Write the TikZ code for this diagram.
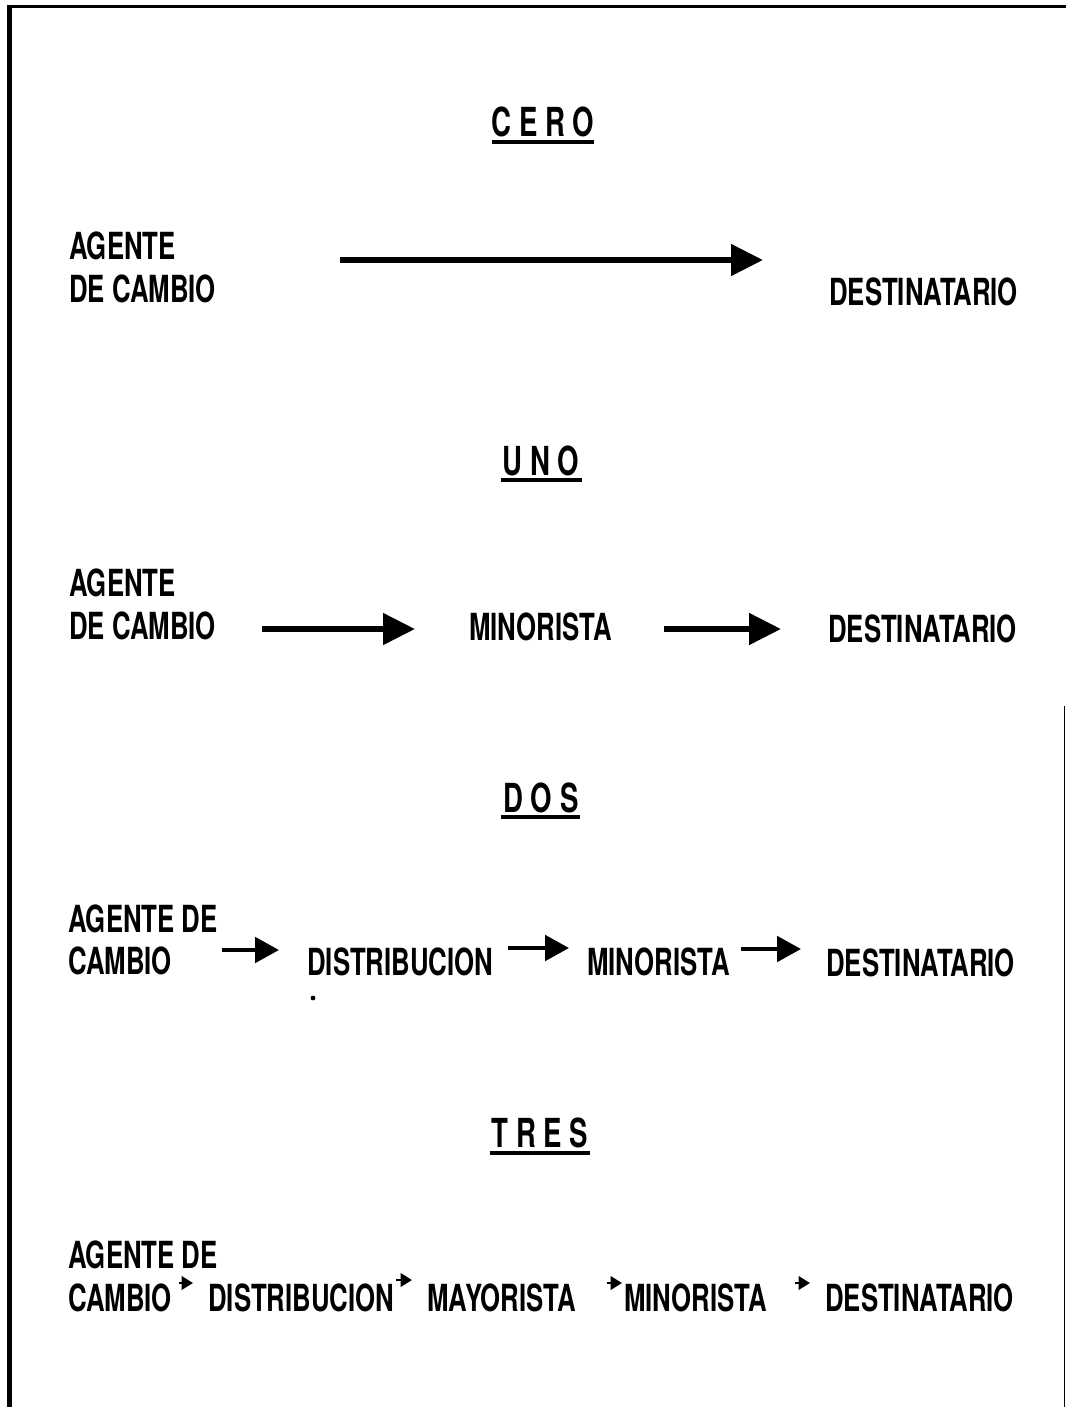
\documentclass[tikz,border=0pt]{standalone}
\usepackage{fontspec}
\setmainfont{TeX Gyre Heros}[FakeStretch=0.69]
\usetikzlibrary{arrows.meta}
\tikzset{
  lbl/.style={anchor=base west, inner sep=0pt, font=\fontsize{28}{32}\selectfont\bfseries},
  ttl/.style={anchor=base, inner sep=0pt, font=\fontsize{30}{34}\selectfont\bfseries},
  uline/.style={line width=2.4pt},
  bigarrow/.style={line width=4.4pt, -{Triangle[length=24pt,width=23pt]}},
  smallarrow/.style={line width=3.2pt, -{Triangle[length=18pt,width=19pt]}},
  tinyarrow/.style={line width=1.9pt, -{Triangle[length=8.5pt,width=10pt]}},
  frame/.style={line cap=butt}
}
\begin{document}
\begin{tikzpicture}[x=0.75pt,y=-0.75pt]
\useasboundingbox (0,0) rectangle (1066,1407);
\fill[white] (0,0) rectangle (1066,1407);
% frame
\draw[frame, line width=2.4pt] (7,6.5) -- (1066,6.5);
\draw[frame, line width=3.2pt] (9.5,5) -- (9.5,1407);
\draw[frame, line width=1.1pt] (1064.5,706) -- (1064.5,1407);

% CERO
\node[ttl] (t0) at (543,136) {C E R O};
\coordinate (u0a) at (492,142); \coordinate (u0b) at (594,142);
\draw[uline] (u0a) -- (u0b);
\node[lbl] (a0a) at (69,259) {AGENTE};
\node[lbl] (a0b) at (69,302) {DE CAMBIO};
\node[lbl] (d0) at (829,305) {DESTINATARIO};
\coordinate (r0s) at (340,260); \coordinate (r0e) at (763,260);
\draw[bigarrow] (r0s) -- (r0e);

% UNO
\node[ttl] (t1) at (541,475) {U N O};
\coordinate (u1a) at (501,480); \coordinate (u1b) at (582,480);
\draw[uline] (u1a) -- (u1b);
\node[lbl] (a1a) at (69,596) {AGENTE};
\node[lbl] (a1b) at (69,639) {DE CAMBIO};
\node[lbl] (m1) at (469,640) {MINORISTA};
\node[lbl] (d1) at (828,642) {DESTINATARIO};
\coordinate (r1s) at (262,629); \coordinate (r1e) at (415,629);
\coordinate (r2s) at (664,629); \coordinate (r2e) at (781,629);
\draw[bigarrow] (r1s) -- (r1e);
\draw[bigarrow] (r2s) -- (r2e);

% DOS
\node[ttl] (t2) at (541,812) {D O S};
\coordinate (u2a) at (501,817); \coordinate (u2b) at (580,817);
\draw[uline] (u2a) -- (u2b);
\node[lbl] (a2a) at (68,932) {AGENTE DE};
\node[lbl] (a2b) at (68,974) {CAMBIO};
\node[lbl] (s2) at (307,975) {DISTRIBUCION};
\node[lbl] (m2) at (587,975) {MINORISTA};
\node[lbl] (d2) at (826,976) {DESTINATARIO};
\coordinate (q1s) at (222,950); \coordinate (q1e) at (279,950);
\coordinate (q2s) at (508,948); \coordinate (q2e) at (569,948);
\coordinate (q3s) at (741,949); \coordinate (q3e) at (801,949);
\draw[smallarrow] (q1s) -- (q1e);
\draw[smallarrow] (q2s) -- (q2e);
\draw[smallarrow] (q3s) -- (q3e);
\coordinate (dot) at (313,998);
\fill (dot) circle (1.8pt);

% TRES
\node[ttl] (t3) at (540,1147) {T R E S};
\coordinate (u3a) at (490,1153); \coordinate (u3b) at (590,1153);
\draw[uline] (u3a) -- (u3b);
\node[lbl] (a3a) at (68,1268) {AGENTE DE};
\node[lbl] (a3b) at (68,1311) {CAMBIO};
\node[lbl] (s3) at (208,1311) {DISTRIBUCION};
\node[lbl] (y3) at (427,1311) {MAYORISTA};
\node[lbl] (m3) at (624,1311) {MINORISTA};
\node[lbl] (d3) at (825,1311) {DESTINATARIO};
\coordinate (p1s) at (179,1283); \coordinate (p1e) at (193,1283);
\coordinate (p2s) at (396,1280); \coordinate (p2e) at (412,1280);
\coordinate (p3s) at (607,1283); \coordinate (p3e) at (622,1283);
\coordinate (p4s) at (795,1283); \coordinate (p4e) at (810,1283);
\draw[tinyarrow] (p1s) -- (p1e);
\draw[tinyarrow] (p2s) -- (p2e);
\draw[tinyarrow] (p3s) -- (p3e);
\draw[tinyarrow] (p4s) -- (p4e);
\end{tikzpicture}
\end{document}
